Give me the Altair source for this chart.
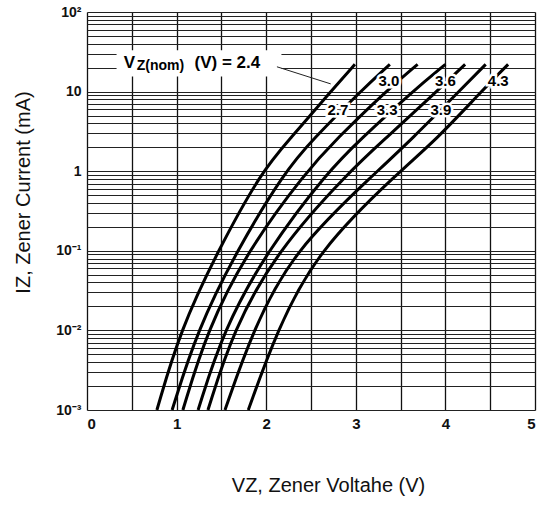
import altair as alt
import pandas as pd

# ---- data ----
series = ["2.4", "2.7", "3.0", "3.3", "3.6", "3.9", "4.3"]
currents = [0.001, 0.01, 0.1, 1.0, 2.5, 10.0, 22.0]
v_2_4 = [0.78, 1.04, 1.46, 1.95, 2.26, 2.72, 2.99]
v_2_7 = [0.95, 1.23, 1.67, 2.21, 2.52, 3.05, 3.38]
v_3_0 = [1.07, 1.34, 1.79, 2.45, 2.78, 3.33, 3.69]
v_3_3 = [1.24, 1.52, 2.01, 2.69, 3.05, 3.63, 4.00]
v_3_6 = [1.35, 1.63, 2.12, 2.93, 3.32, 3.90, 4.22]
v_3_9 = [1.54, 1.85, 2.30, 3.24, 3.62, 4.15, 4.45]
v_4_3 = [1.80, 2.12, 2.57, 3.49, 3.90, 4.40, 4.70]
volts = [v_2_4, v_2_7, v_3_0, v_3_3, v_3_6, v_3_9, v_4_3]

# curve labels
lab_text = ["3.0", "3.6", "4.3", "2.7", "3.3", "3.9"]
lab_v = [3.37, 4.00, 4.59, 2.80, 3.35, 3.95]
lab_i = [13.4, 13.4, 13.4, 5.8, 5.8, 5.8]

# main legend label pieces
head_text = ["V", "(V)  =  2.4"]
head_v = [0.41, 1.20]
head_i = [23.0, 23.0]
sub_text = ["Z(nom)"]
sub_v = [0.555]
sub_i = [21.0]
box_v = [0.33, 2.17]
box_i = [33.0, 15.5]
leader_v = [2.12, 2.72]
leader_i = [20.5, 12.5]

x_ticks = [0, 0.5, 1, 1.5, 2, 2.5, 3, 3.5, 4, 4.5, 5]
y_ticks = [round(m * 10 ** k, 6) for k in range(-3, 2) for m in range(1, 10)] + [100.0]
y_label_map = {100: "10²", 10: "10", 1: "1", 0.1: "10⁻¹", 0.01: "10⁻²", 0.001: "10⁻³"}

rows = []
for s, vs in zip(series, volts):
    for v, i in zip(vs, currents):
        rows.append({"series": s, "V": v, "I": i})
df = pd.DataFrame(rows)

label_expr = " : ".join(
    f"datum.value == {k} ? '{t}'" for k, t in y_label_map.items()
) + " : ''"

xscale = alt.Scale(domain=[0, 5], nice=False, zero=False)
yscale = alt.Scale(type="log", domain=[0.001, 100], nice=False)

FONT = "Liberation Sans"

x_axis = alt.Axis(
    values=x_ticks, grid=True, gridColor="#111", gridWidth=1.3,
    labelExpr="datum.value % 1 == 0 ? toString(datum.value) : ''",
    labelFont=FONT, labelFontWeight="bold", labelFontSize=15, labelColor="#111",
    labelPadding=6, ticks=False, domain=False,
    title="VZ, Zener Voltahe (V)", titleFont=FONT, titleFontSize=20,
    titleFontWeight="normal", titleColor="#111", titlePadding=44, titleX=241,
)
y_axis = alt.Axis(
    values=y_ticks, grid=True, gridColor="#222", gridWidth=1,
    labelExpr=label_expr, labelFont=FONT, labelFontWeight="bold",
    labelFontSize=14, labelColor="#111", labelPadding=6, ticks=False,
    domain=False,
    title="IZ, Zener Current (mA)", titleFont=FONT, titleFontSize=20,
    titleFontWeight="normal", titleColor="#111", titlePadding=22, titleY=180,
)

curves = alt.Chart(df).mark_line(
    color="black", strokeWidth=3, interpolate="basis"
).encode(
    x=alt.X("V:Q", scale=xscale, axis=x_axis),
    y=alt.Y("I:Q", scale=yscale, axis=y_axis),
    detail="series:N",
)

box = alt.Chart(pd.DataFrame({
    "x": [box_v[0]], "x2": [box_v[1]], "y": [box_i[0]], "y2": [box_i[1]]
})).mark_rect(color="white").encode(
    x=alt.X("x:Q", scale=xscale), x2="x2:Q",
    y=alt.Y("y:Q", scale=yscale), y2="y2:Q",
)

leader = alt.Chart(pd.DataFrame({
    "x": [leader_v[0]], "x2": [leader_v[1]], "y": [leader_i[0]], "y2": [leader_i[1]]
})).mark_rule(color="#222", strokeWidth=1).encode(
    x=alt.X("x:Q", scale=xscale), x2="x2:Q",
    y=alt.Y("y:Q", scale=yscale), y2="y2:Q",
)

lab_df = pd.DataFrame({"t": lab_text, "V": lab_v, "I": lab_i})
lab_halo = alt.Chart(lab_df).mark_text(
    font=FONT, fontSize=15, fontWeight="bold", color="white",
    stroke="white", strokeWidth=5, align="center", baseline="middle",
).encode(x=alt.X("V:Q", scale=xscale), y=alt.Y("I:Q", scale=yscale), text="t:N")
lab = alt.Chart(lab_df).mark_text(
    font=FONT, fontSize=15, fontWeight="bold", color="black",
    align="center", baseline="middle",
).encode(x=alt.X("V:Q", scale=xscale), y=alt.Y("I:Q", scale=yscale), text="t:N")

head = alt.Chart(pd.DataFrame({"t": head_text, "V": head_v, "I": head_i})).mark_text(
    font=FONT, fontSize=17, fontWeight="bold", color="black",
    align="left", baseline="middle",
).encode(x=alt.X("V:Q", scale=xscale), y=alt.Y("I:Q", scale=yscale), text="t:N")
sub = alt.Chart(pd.DataFrame({"t": sub_text, "V": sub_v, "I": sub_i})).mark_text(
    font=FONT, fontSize=14, fontWeight="bold", color="black",
    align="left", baseline="middle",
).encode(x=alt.X("V:Q", scale=xscale), y=alt.Y("I:Q", scale=yscale), text="t:N")

chart = alt.layer(curves, box, leader, lab_halo, lab, head, sub).properties(
    width=448, height=398,
    autosize=alt.AutoSizeParams(type="none"),
    padding={"left": 87, "top": 12, "right": 5, "bottom": 95},
).configure_view(stroke="black", strokeWidth=1.5).configure(background="white")

chart.save("out.html", embed_options={"renderer": "svg", "actions": False})
